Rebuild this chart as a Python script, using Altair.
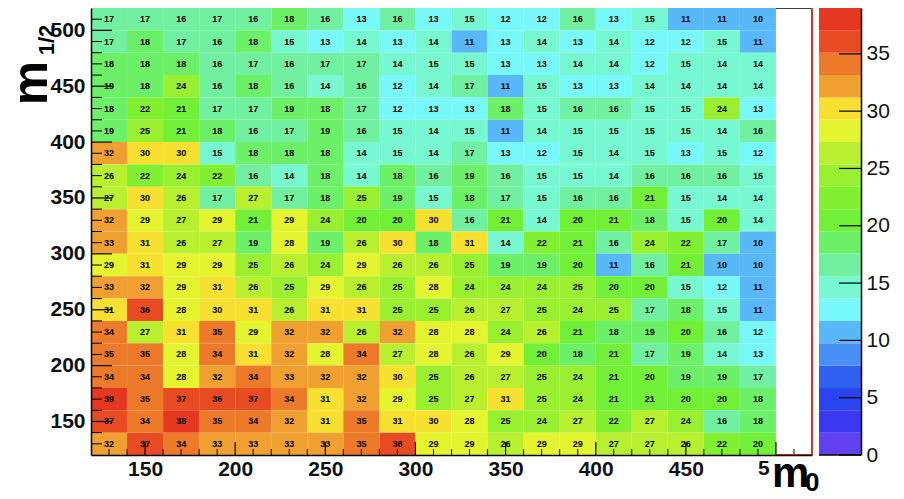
import altair as alt
import pandas as pd

# bin layout (20 x 20 bins of width 20 on [120, 520]); last x bin is empty
x_lo = list(range(120, 500, 20))      # 19 filled columns
y_lo = list(range(500, 100, -20))     # rows, top to bottom
bin_w = 20

rows = [
    [17,17,16,17,16,18,16,13,16,13,15,12,12,16,13,15,11,11,10],
    [17,18,17,16,18,15,13,14,13,14,11,13,14,13,14,12,12,15,11],
    [18,18,18,16,17,16,17,17,14,15,15,13,13,14,14,12,15,14,14],
    [19,18,24,16,18,16,14,16,12,14,17,11,15,13,13,14,14,14,14],
    [18,22,21,17,17,19,18,17,12,13,13,18,15,16,16,15,15,24,13],
    [19,25,21,18,16,17,19,16,15,14,15,11,14,15,15,15,15,14,16],
    [32,30,30,15,18,18,18,14,15,14,17,13,12,15,14,15,13,15,12],
    [26,22,24,22,16,14,18,14,18,16,19,16,15,15,14,16,16,16,15],
    [27,30,26,17,27,17,18,25,19,15,18,17,15,16,16,21,15,14,14],
    [32,29,27,29,21,29,24,20,20,30,16,21,14,20,21,18,15,20,14],
    [33,31,26,27,19,28,19,26,30,18,31,14,22,21,16,24,22,17,10],
    [29,31,29,29,25,26,24,29,26,26,25,19,19,20,11,16,21,10,10],
    [33,32,29,31,26,25,29,26,25,28,24,24,24,25,20,20,15,12,11],
    [31,36,28,30,31,26,31,31,25,25,26,27,25,24,25,17,18,15,11],
    [34,27,31,35,29,32,32,26,32,28,28,24,26,21,18,19,20,16,12],
    [35,35,28,34,31,32,28,34,27,28,26,29,20,18,21,17,19,14,13],
    [34,34,28,32,34,33,32,32,30,25,26,27,25,24,21,20,19,19,17],
    [39,35,37,36,37,34,31,32,29,25,27,31,25,24,21,21,20,20,18],
    [37,34,38,35,34,32,31,35,31,30,28,25,24,27,22,27,24,16,18],
    [32,37,34,33,33,33,33,35,36,29,29,26,29,29,27,27,26,22,20],
]

z_max = 39
n_bands = 20
palette = ["#6040f0", "#3a38f0", "#2a44f0", "#3060f0", "#4890f5",
           "#58b8f8", "#78f8f8", "#78f8d0", "#70f0a0", "#6cf068",
           "#72f038", "#80f030", "#98f030", "#b8f030", "#e4f530",
           "#f8e030", "#f0a030", "#ec7a28", "#e84a22", "#e63820"]

x_axis_vals = [150, 200, 250, 300, 350, 400, 450]
y_axis_vals = [150, 200, 250, 300, 350, 400, 450, 500]
z_axis_vals = [0, 5, 10, 15, 20, 25, 30, 35]
minor_ticks = list(range(130, 520, 10))

recs = []
for i, row in enumerate(rows):
    for j, v in enumerate(row):
        recs.append(dict(x0=x_lo[j], x1=x_lo[j] + bin_w, y0=y_lo[i], y1=y_lo[i] + bin_w,
                         xc=x_lo[j] + bin_w / 2, yc=y_lo[i] + bin_w / 2, v=v))
df = pd.DataFrame(recs)

thresholds = [z_max * k / n_bands for k in range(1, n_bands)]
FONT = "Liberation Sans"

xs = alt.Scale(domain=[120, 520], nice=False, zero=False)
ys = alt.Scale(domain=[120, 520], nice=False, zero=False)
x_axis = alt.Axis(values=x_axis_vals, title=None, grid=False, ticks=False, tickSize=0,
                  labelFont=FONT, labelFontSize=21, labelFontWeight="bold", labelColor="#111",
                  labelPadding=3, domainColor="black", domainWidth=1.5, zindex=1)
y_axis = alt.Axis(values=y_axis_vals, title=None, grid=False, ticks=False, tickSize=0,
                  labelFont=FONT, labelFontSize=21, labelFontWeight="bold", labelColor="#111",
                  labelPadding=6, domainColor="black", domainWidth=1.5, zindex=1)

heat = alt.Chart(df).mark_rect().encode(
    x=alt.X("x0:Q", scale=xs, axis=x_axis), x2="x1:Q",
    y=alt.Y("y0:Q", scale=ys, axis=y_axis), y2="y1:Q",
    color=alt.Color("v:Q", scale=alt.Scale(type="threshold", domain=thresholds, range=palette),
                    legend=None),
)
txt = alt.Chart(df).mark_text(font=FONT, fontSize=9, fontWeight="bold", color="black").encode(
    x=alt.X("xc:Q", scale=xs, axis=x_axis), y=alt.Y("yc:Q", scale=ys, axis=y_axis), text="v:Q")

tdf = pd.DataFrame({"t": minor_ticks, "major": [t % 50 == 0 for t in minor_ticks]})
xt_minor = alt.Chart(tdf[~tdf.major]).mark_rule(color="black", strokeWidth=1).encode(
    x=alt.X("t:Q", scale=xs, axis=x_axis), y=alt.value(447), y2=alt.value(441))
xt_major = alt.Chart(tdf[tdf.major]).mark_rule(color="black", strokeWidth=1.2).encode(
    x=alt.X("t:Q", scale=xs, axis=x_axis), y=alt.value(447), y2=alt.value(434))
yt_minor = alt.Chart(tdf[~tdf.major]).mark_rule(color="black", strokeWidth=1).encode(
    y=alt.Y("t:Q", scale=ys, axis=y_axis), x=alt.value(0), x2=alt.value(11))
yt_major = alt.Chart(tdf[tdf.major]).mark_rule(color="black", strokeWidth=1.2).encode(
    y=alt.Y("t:Q", scale=ys, axis=y_axis), x=alt.value(0), x2=alt.value(21))

one = pd.DataFrame({"a": [0]})
top_line = alt.Chart(one).mark_rule(color="black", strokeWidth=1.5).encode(
    x=alt.datum(500, scale=xs), x2=alt.datum(520), y=alt.value(0))
red_right = alt.Chart(one).mark_rule(color="#e03020", strokeWidth=2).encode(
    x=alt.datum(520, scale=xs), y=alt.value(0), y2=alt.value(447))
red_bottom = alt.Chart(one).mark_rule(color="#e03020", strokeWidth=2).encode(
    x=alt.datum(500, scale=xs), x2=alt.datum(520), y=alt.value(447))
five = alt.Chart(one).mark_text(text="5", font=FONT, fontSize=21, fontWeight="bold",
                                color="#111", baseline="top", dx=-12).encode(
    x=alt.datum(500, scale=xs), y=alt.value(450))

ytitle_m = alt.Chart(one).mark_text(text="m", font=FONT, fontSize=50, fontWeight="bold",
                                    angle=270, align="center", baseline="alphabetic").encode(
    x=alt.value(-44), y=alt.value(75))
ytitle_s = alt.Chart(one).mark_text(text="1/2", font=FONT, fontSize=22, fontWeight="bold",
                                    angle=270, align="center", baseline="alphabetic").encode(
    x=alt.value(-37), y=alt.value(32))
xtitle_m = alt.Chart(one).mark_text(text="m", font=FONT, fontSize=42, fontWeight="bold",
                                    align="left", baseline="alphabetic").encode(
    x=alt.value(681), y=alt.value(479))
xtitle_s = alt.Chart(one).mark_text(text="0", font=FONT, fontSize=26, fontWeight="bold",
                                    align="left", baseline="alphabetic").encode(
    x=alt.value(714), y=alt.value(483))

main = alt.layer(heat, txt, xt_minor, xt_major, yt_minor, yt_major,
                 top_line, red_right, red_bottom, five,
                 ytitle_m, ytitle_s, xtitle_m, xtitle_s)

# colour bar
cb_df = pd.DataFrame({"lo": [z_max * k / n_bands for k in range(n_bands)],
                      "hi": [z_max * (k + 1) / n_bands for k in range(n_bands)],
                      "c": palette})
zs = alt.Scale(domain=[0, z_max], nice=False, zero=False)
z_axis = alt.Axis(orient="right", offset=49, values=z_axis_vals, title=None, grid=False,
                  ticks=False, tickSize=0, labelFont=FONT, labelFontSize=21, labelColor="#111",
                  labelPadding=5, domainColor="black", domainWidth=1.5, zindex=1)
cb = alt.Chart(cb_df).mark_rect().encode(
    x=alt.value(728), x2=alt.value(770),
    y=alt.Y("lo:Q", scale=zs, axis=z_axis), y2="hi:Q",
    color=alt.Color("c:N", scale=None))
cb_ticks = alt.Chart(pd.DataFrame({"lo": z_axis_vals})).mark_rule(color="black", strokeWidth=1.2).encode(
    y=alt.Y("lo:Q", scale=zs, axis=z_axis), x=alt.value(748), x2=alt.value(770))
cb_bottom = alt.Chart(one).mark_rule(color="black", strokeWidth=1.5).encode(
    y=alt.value(447), x=alt.value(728), x2=alt.value(770))
cbar = alt.layer(cb, cb_ticks, cb_bottom)

chart = alt.layer(main, cbar).resolve_scale(y="independent").properties(
    width=721, height=447,
    padding={"left": 83, "top": 0, "right": 84, "bottom": 36},
    autosize=alt.AutoSizeParams(type="none"),
    background="white",
).configure_view(stroke=None)

chart.save("out.html", embed_options={"renderer": "svg", "actions": False})
